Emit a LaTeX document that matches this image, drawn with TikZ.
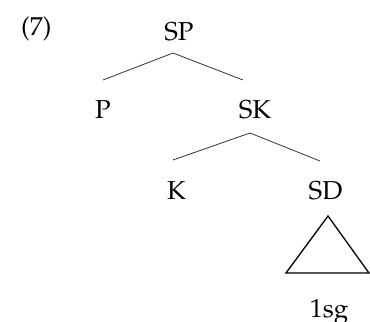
\documentclass[tikz,border=0pt]{standalone}
\usepackage[T1]{fontenc}
\usepackage{mathpazo}
\begin{document}
\begin{tikzpicture}[x=1bp,y=-1bp,
  lbl/.style={anchor=base,inner sep=0pt,font=\fontsize{26}{30}\selectfont},
  branch/.style={draw=black!80,line width=0.8bp},
  tri/.style={draw=black,line width=1.3bp,line join=miter}]
\useasboundingbox (0,0) rectangle (370,322);
% labels
\node[lbl,anchor=base west] (ex) at (21,35) {(7)};
\node[lbl] (sp) at (179,40) {SP};
\node[lbl] (p)  at (103,118) {P};
\node[lbl] (sk) at (255,118) {SK};
\node[lbl] (k)  at (176.5,199) {K};
\node[lbl] (sd) at (325.5,199) {SD};
\node[lbl] (sg) at (329,317) {1sg};
% branch end points
\coordinate (sp-foot) at (173,53);
\coordinate (p-head)  at (103,80);
\coordinate (sk-head) at (243,80);
\coordinate (sk-foot) at (250,133);
\coordinate (k-head)  at (173,160);
\coordinate (sd-head) at (320,161);
% branches
\draw[branch] (p-head) -- (sp-foot) -- (sk-head);
\draw[branch] (k-head) -- (sk-foot) -- (sd-head);
% collapsed constituent under SD
\coordinate (tri-top) at (328,216);
\coordinate (tri-l) at (286,273);
\coordinate (tri-r) at (369,273);
\draw[tri] (tri-top) -- (tri-l) -- (tri-r) -- cycle;
\end{tikzpicture}
\end{document}
